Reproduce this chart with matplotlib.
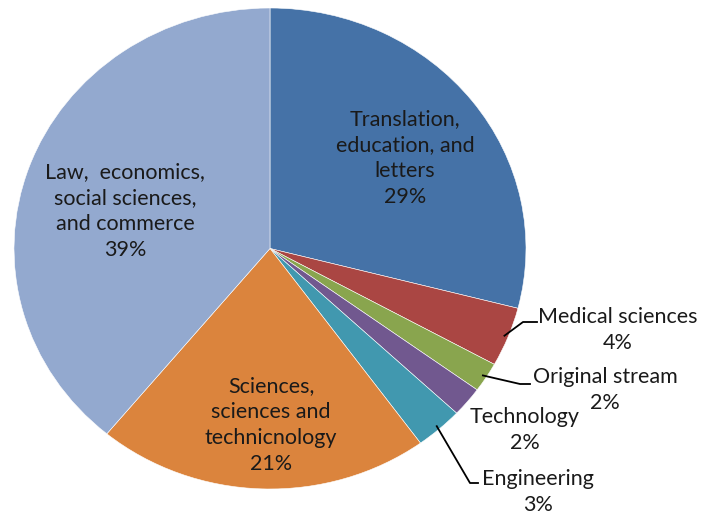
import numpy as np
import matplotlib.pyplot as plt

etiquetas = ['Translation,\neducation, and\nletters', 'Medical sciences', 'Original stream',
             'Technology', 'Engineering', 'Sciences,\nsciences and\ntechnicnology',
             'Law,  economics,\nsocial sciences,\nand commerce']
porcentajes = [29, 4, 2, 2, 3, 21, 39]
colores = ['#4572A7', '#AA4643', '#89A54E', '#71588F', '#4198AF', '#DB843D', '#93A9CF']

plt.rcParams['font.family'] = ['Lato', 'DejaVu Sans']

W, H = 702, 517
fig = plt.figure(figsize=(W / 100, H / 100), dpi=100)
# pie box in pixels: x 14..526, y 8..489 (slightly squashed, like the original)
ax = fig.add_axes([14 / W, (H - 489) / H, 512 / W, 481 / H])

wedges, _ = ax.pie(porcentajes, colors=colores, startangle=90, counterclock=False,
                   wedgeprops=dict(edgecolor='white', linewidth=0.4))
ax.set_aspect('auto')
ax.set_xlim(-1, 1)
ax.set_ylim(-1, 1)
ax.axis('off')


def px(x, y):
    # pixel position -> data coords of the pie axes
    return (x - 270) / 256, (248.5 - y) / 240.5


fs = 15.5
# labels inside the pie
dentro = {0: (405, 158), 5: (271, 425), 6: (125, 211)}
for i, (x, y) in dentro.items():
    ax.text(*px(x, y), etiquetas[i] + '\n%d%%' % porcentajes[i], ha='center', va='center',
            fontsize=fs, color='#1a1a1a', linespacing=1.38)

# labels outside, with leader lines
fuera = {1: (618, 330), 2: (605, 390), 3: (525, 430), 4: (538, 492)}
codos = {1: [(523, 322), (537, 322)], 2: [(520, 384), (530, 384)], 4: [(470, 483), (478, 483)]}
for i, (x, y) in fuera.items():
    ax.text(*px(x, y), etiquetas[i] + '\n%d%%' % porcentajes[i], ha='center', va='center',
            fontsize=fs, color='#1a1a1a', linespacing=1.38)
    if i in codos:
        w = wedges[i]
        ang = np.deg2rad((w.theta1 + w.theta2) / 2)
        xs = [np.cos(ang) * 0.985] + [px(*p)[0] for p in codos[i]]
        ys = [np.sin(ang) * 0.985] + [px(*p)[1] for p in codos[i]]
        ax.plot(xs, ys, color='black', linewidth=1.3, clip_on=False)

fig.savefig('out.png', dpi=100)
